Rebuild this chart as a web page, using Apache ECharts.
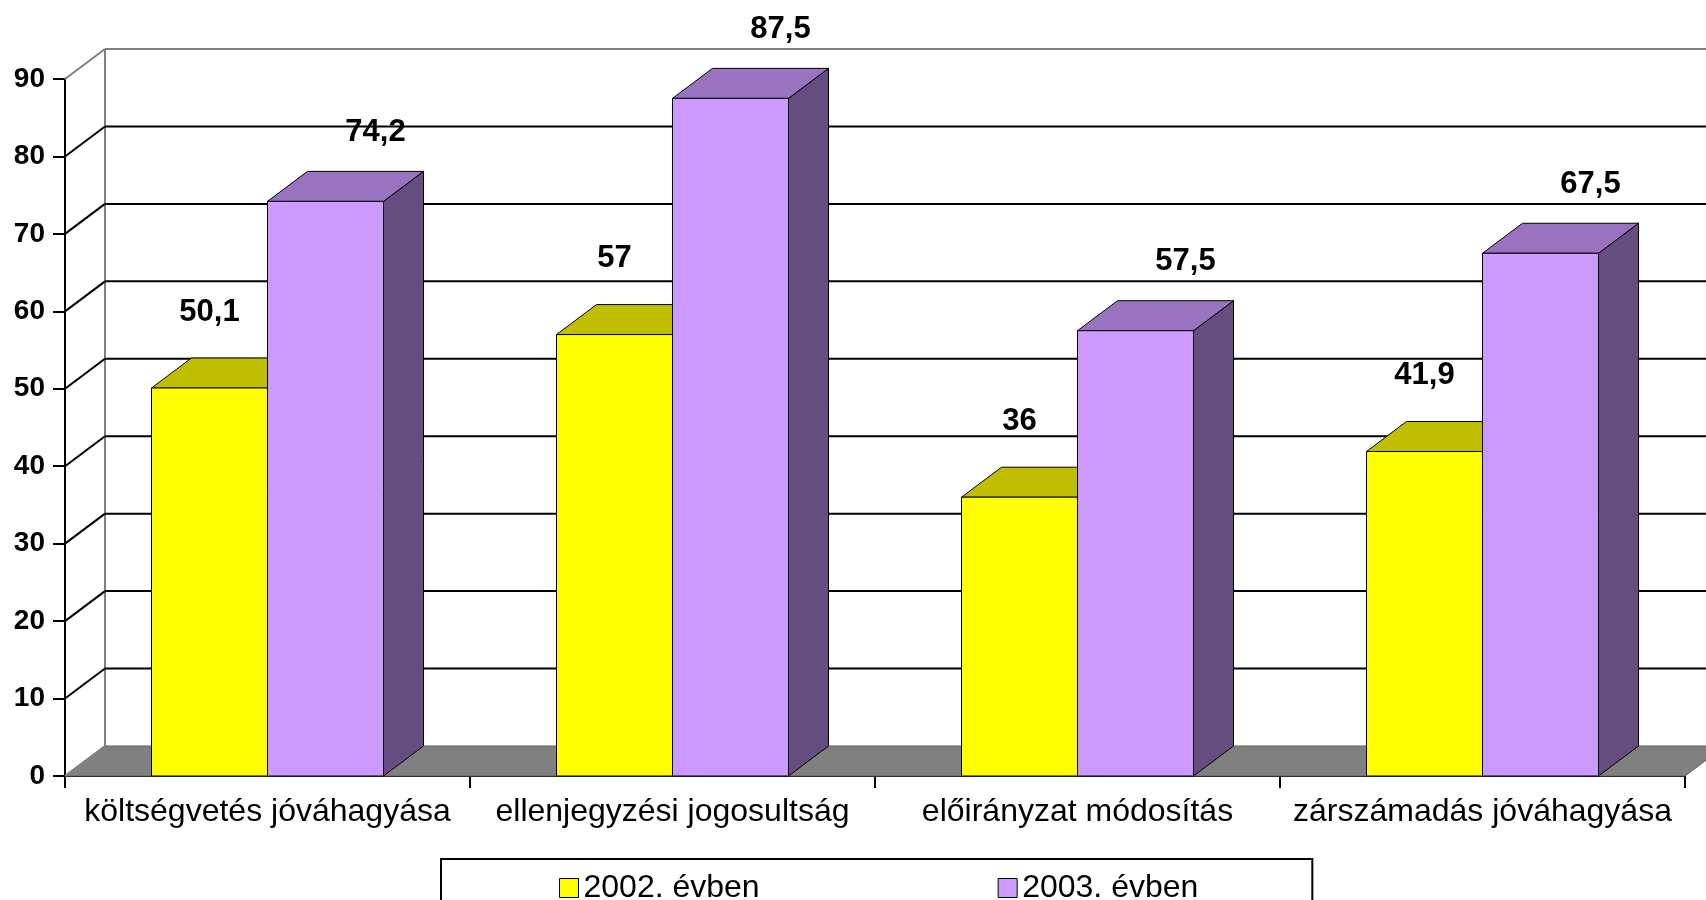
<!DOCTYPE html>
<html>
<head>
<meta charset="utf-8">
<title>chart</title>
<script src="https://cdn.jsdelivr.net/npm/echarts@6/dist/echarts.min.js"></script>
<style>
  html, body { margin: 0; padding: 0; background: #fff; }
  #chart { width: 1706px; height: 900px; }
</style>
</head>
<body>
<div id="chart"></div>
<script>
// adatok
var categories = ['költségvetés jóváhagyása', 'ellenjegyzési jogosultság', 'előirányzat módosítás', 'zárszámadás jóváhagyása'];
var values2002 = [50.1, 57, 36, 41.9];
var values2003 = [74.2, 87.5, 57.5, 67.5];
var seriesNames = ['2002. évben', '2003. évben'];
var yTicks = [0, 10, 20, 30, 40, 50, 60, 70, 80, 90];

var FONT = '"Liberation Sans", Arial, sans-serif';
var DX = 40, DY = -30;          // 3D mélység
var BAR_SHARE = 116 / 405;      // oszlop szélessége a kategória arányában
var frontColors = ['#FFFF00', '#CC99FF'];
var labelShift = [[0, -76], [50, -69]];  // címke eltolás sorozatonként (x, y)

function shade(hex, k) {
    var n = parseInt(hex.slice(1), 16);
    var r = Math.round(((n >> 16) & 255) * k), g = Math.round(((n >> 8) & 255) * k), b = Math.round((n & 255) * k);
    return 'rgb(' + r + ',' + g + ',' + b + ')';
}

function toPairs(vals) {
    return vals.map(function (v, i) { return [i, v]; });
}

// falak, padló, rácsvonalak
function renderWalls(params, api) {
    var t = api.value(1);
    var p = api.coord([0, t]);
    var cs = params.coordSys;
    var x0 = cs.x, x1 = cs.x + cs.width, y = p[1];
    var gray = '#808080';
    var edge = (t === 0 || t === 90) ? gray : '#000';
    var children = [];
    if (t === 0) {
        children.push({
            type: 'polygon',
            shape: { points: [[x0, y], [x1, y], [x1 + DX, y + DY], [x0 + DX, y + DY]] },
            style: { fill: gray, stroke: '#606060', lineWidth: 1 }
        });
        children.push({
            type: 'line',
            shape: { x1: x0 + DX, y1: y + DY, x2: x0 + DX, y2: cs.y + DY },
            style: { stroke: gray, lineWidth: 2 }
        });
    } else {
        children.push({
            type: 'line',
            shape: { x1: x0 + DX, y1: y + DY, x2: x1 + DX, y2: y + DY },
            style: { stroke: edge, lineWidth: 2 }
        });
    }
    children.push({
        type: 'line',
        shape: { x1: x0, y1: y, x2: x0 + DX, y2: y + DY },
        style: { stroke: edge, lineWidth: 2 }
    });
    return { type: 'group', children: children };
}

function makeBar(sIdx) {
    return function (params, api) {
        var ci = api.value(0), v = api.value(1);
        var b = api.coord([ci, 0]), t = api.coord([ci, v]);
        var band = api.size([1, 0])[0];
        var w = band * BAR_SHARE;
        var xL = b[0] - w + sIdx * w, xR = xL + w;
        var yB = b[1], yT = t[1];
        var c = frontColors[sIdx];
        return {
            type: 'group',
            children: [{
                type: 'polygon',
                shape: { points: [[xR, yB], [xR + DX, yB + DY], [xR + DX, yT + DY], [xR, yT]] },
                style: { fill: shade(c, 0.5), stroke: '#000', lineWidth: 1 }
            }, {
                type: 'polygon',
                shape: { points: [[xL, yT], [xR, yT], [xR + DX, yT + DY], [xL + DX, yT + DY]] },
                style: { fill: shade(c, 0.75), stroke: '#000', lineWidth: 1 }
            }, {
                type: 'rect',
                shape: { x: xL, y: yT, width: w, height: yB - yT },
                style: { fill: c, stroke: '#000', lineWidth: 1 }
            }, {
                type: 'text',
                style: {
                    x: (xL + xR) / 2 + labelShift[sIdx][0], y: yT + labelShift[sIdx][1],
                    text: String(v).replace('.', ','),
                    fill: '#000', font: 'bold 31px ' + FONT,
                    align: 'center', verticalAlign: 'middle'
                }
            }]
        };
    };
}

var option = {
    animation: false,
    backgroundColor: '#fff',
    grid: { left: 65, right: 21, top: 79, bottom: 124, containLabel: false },
    legend: {
        data: seriesNames,
        icon: 'rect',
        left: 441, top: 859,
        itemWidth: 19, itemHeight: 19, itemGap: 238,
        padding: [13, 114, 40, 118],
        borderColor: '#000', borderWidth: 2,
        itemStyle: { borderColor: '#000', borderWidth: 1 },
        textStyle: { fontSize: 32, fontFamily: FONT, color: '#000' }
    },
    xAxis: {
        type: 'category',
        data: categories,
        boundaryGap: true,
        axisLine: { lineStyle: { color: '#000', width: 2 } },
        axisTick: { show: true, length: 12, lineStyle: { color: '#000', width: 2 } },
        axisLabel: { interval: 0, margin: 20, fontSize: 32, fontFamily: FONT, color: '#000' },
        splitLine: { show: false }
    },
    yAxis: {
        type: 'value',
        min: 0, max: 90, interval: 10,
        axisLine: { show: true, lineStyle: { color: '#000', width: 2 } },
        axisTick: { show: true, length: 12, lineStyle: { color: '#000', width: 2 } },
        axisLabel: { margin: 20, fontSize: 28, fontWeight: 'bold', fontFamily: FONT, color: '#000' },
        splitLine: { show: false }
    },
    series: [{
        name: 'walls',
        type: 'custom',
        renderItem: renderWalls,
        data: yTicks.map(function (t) { return [0, t]; }),
        encode: { x: 0, y: 1 },
        silent: true,
        z: 1
    }, {
        name: seriesNames[0],
        type: 'custom',
        renderItem: makeBar(0),
        data: toPairs(values2002),
        encode: { x: 0, y: 1 },
        itemStyle: { color: frontColors[0], borderColor: '#000', borderWidth: 1 },
        z: 3
    }, {
        name: seriesNames[1],
        type: 'custom',
        renderItem: makeBar(1),
        data: toPairs(values2003),
        encode: { x: 0, y: 1 },
        itemStyle: { color: frontColors[1], borderColor: '#000', borderWidth: 1 },
        z: 4
    }]
};

var chart = echarts.init(document.getElementById('chart'));
chart.setOption(option);
</script>
</body>
</html>
